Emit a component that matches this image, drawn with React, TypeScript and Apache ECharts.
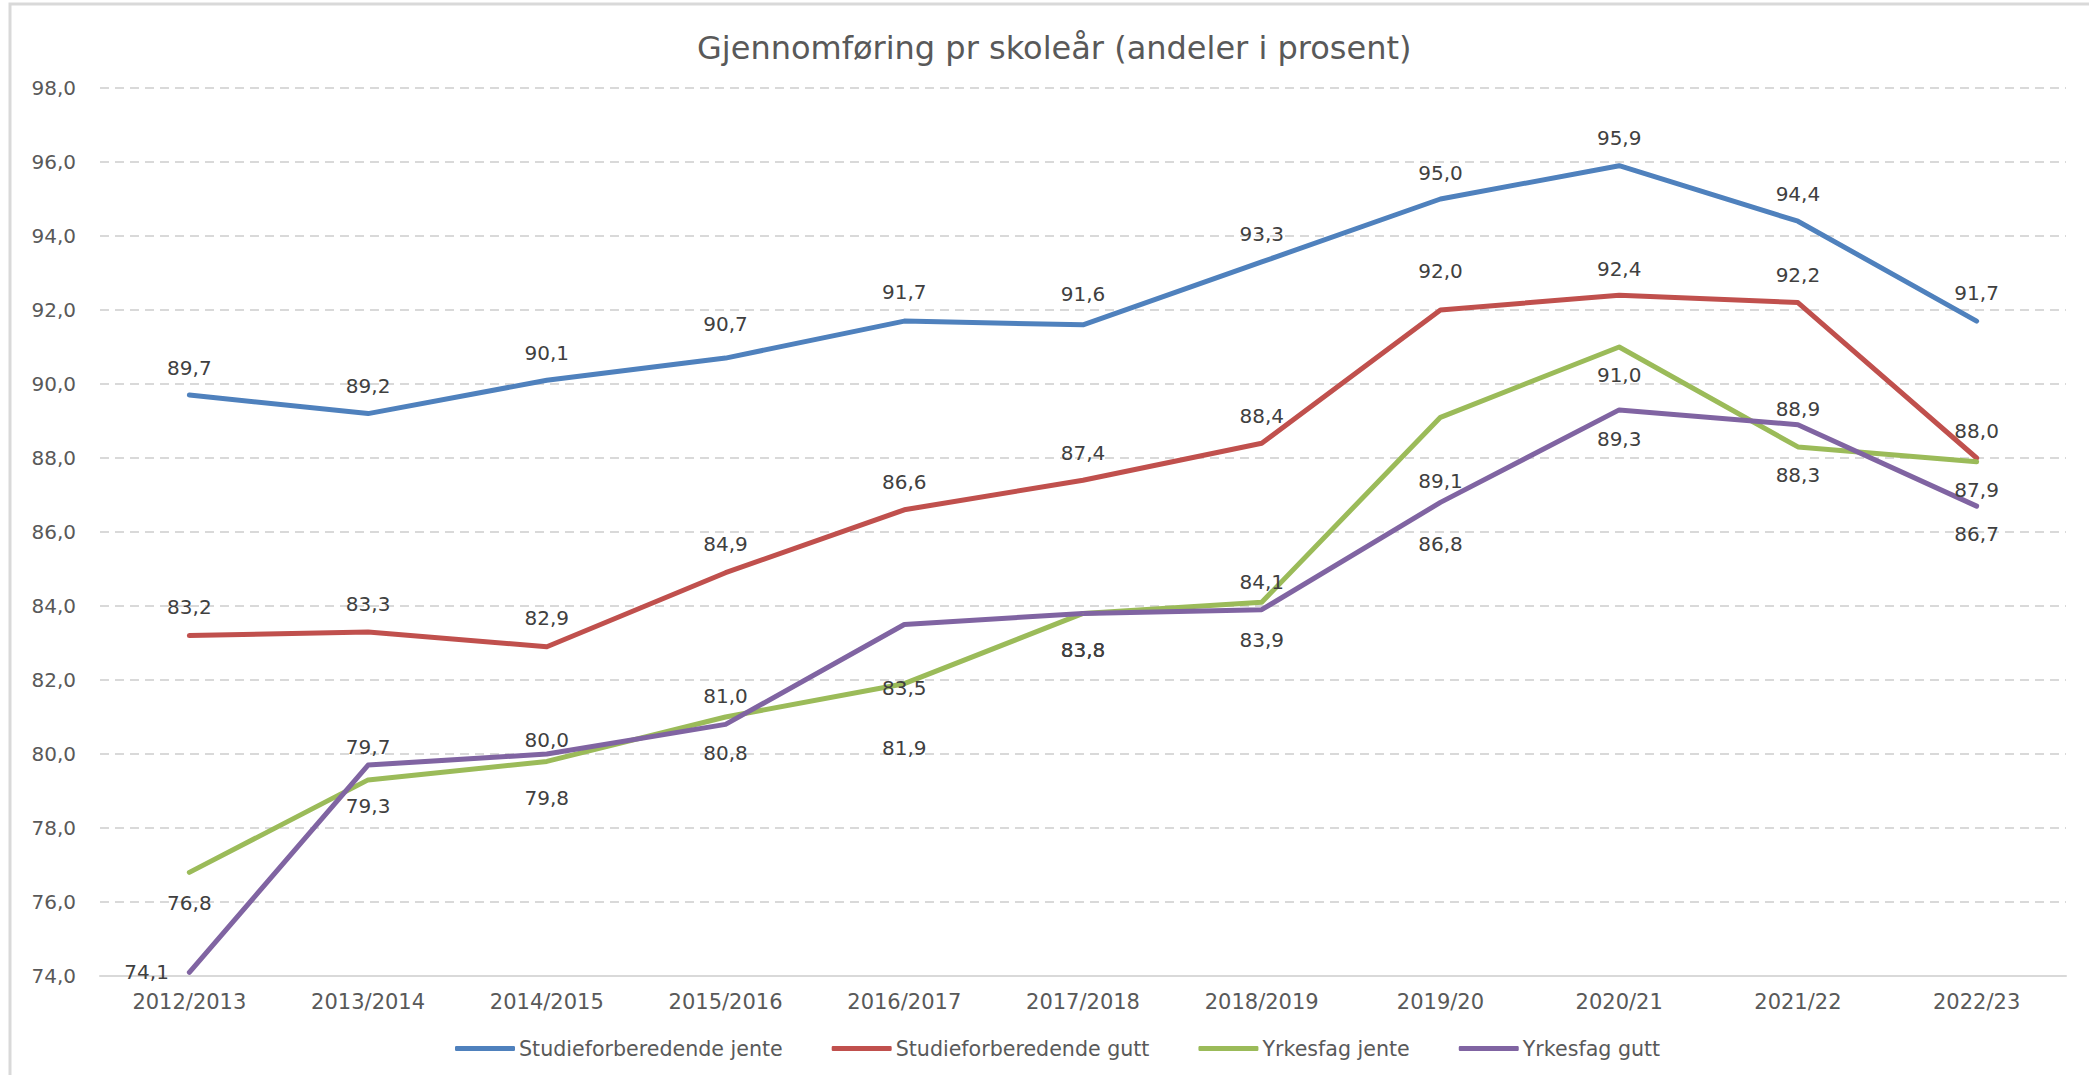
import React, { useEffect, useRef } from "react";
import * as echarts from "echarts";

const categories = [
  "2012/2013", "2013/2014", "2014/2015", "2015/2016", "2016/2017", "2017/2018",
  "2018/2019", "2019/20", "2020/21", "2021/22", "2022/23",
];
const studieJente = [89.7, 89.2, 90.1, 90.7, 91.7, 91.6, 93.3, 95.0, 95.9, 94.4, 91.7];
const studieGutt = [83.2, 83.3, 82.9, 84.9, 86.6, 87.4, 88.4, 92.0, 92.4, 92.2, 88.0];
const yrkesJente = [76.8, 79.3, 79.8, 81.0, 81.9, 83.8, 84.1, 89.1, 91.0, 88.3, 87.9];
const yrkesGutt = [74.1, 79.7, 80.0, 80.8, 83.5, 83.8, 83.9, 86.8, 89.3, 88.9, 86.7];
const yTicks = { min: 74, max: 98, interval: 2 };

// label placement (side + gap) per point, kept apart from the values
const sideStudieJente = ["top", "top", "top", "top", "top", "top", "top", "top", "top", "top", "top"];
const gapStudieJente = [17, 17, 17, 24, 19, 20, 17, 16, 17, 17, 18];
const sideStudieGutt = ["top", "top", "top", "top", "top", "top", "top", "top", "top", "top", "top"];
const gapStudieGutt = [18, 17, 18, 18, 17, 17, 17, 29, 16, 17, 17];
const sideYrkesJente = ["bottom", "bottom", "bottom", "top", "bottom", "bottom", "top", "bottom", "bottom", "bottom", "bottom"];
const gapYrkesJente = [20, 16, 26, 11, 54, 26, 10, 53, 17, 18, 18];
const sideYrkesGutt = ["left", "top", "top", "bottom", "bottom", "bottom", "bottom", "bottom", "bottom", "top", "bottom"];
const gapYrkesGutt = [20, 8, 4, 18, 53, 26, 20, 31, 19, 5, 17];

const FONT = "DejaVu Sans";
const fmt = (v: number) => v.toFixed(1).replace(".", ",");

function makeSeries(name: string, values: number[], color: string, sides: string[], gaps: number[]) {
  return {
    name,
    type: "line",
    data: values.map((v, i) => ({
      value: v,
      label: { position: sides[i], distance: gaps[i] },
    })),
    symbol: "circle",
    symbolSize: 1,
    showSymbol: true,
    itemStyle: { color },
    lineStyle: { color, width: 5, cap: "round", join: "round" },
    label: {
      show: true,
      fontFamily: FONT,
      fontSize: 20,
      color: "#404040",
      formatter: (p: any) => fmt(p.value),
    },
    emphasis: { disabled: true },
    z: 3,
  };
}

export default function App() {
  const ref = useRef<HTMLDivElement>(null);
  useEffect(() => {
    if (!ref.current) return;
    const chart = echarts.init(ref.current, null, { renderer: "svg" });
    chart.setOption({
      animation: false,
      backgroundColor: "#ffffff",
      title: {
        text: "Gjennomføring pr skoleår (andeler i prosent)",
        left: 692,
        top: 27,
        textStyle: { fontFamily: FONT, fontSize: 32, fontWeight: "normal", color: "#595959" },
      },
      graphic: [
        {
          type: "rect",
          shape: { x: 10, y: 4, width: 2100, height: 1100 },
          style: { fill: "none", stroke: "#d9d9d9", lineWidth: 3 },
          silent: true,
        },
      ],
      legend: {
        left: 450,
        top: 1033,
        itemWidth: 60,
        itemHeight: 5,
        itemGap: 49,
        icon: "roundRect",
        textStyle: { fontFamily: FONT, fontSize: 20.6, color: "#595959", padding: [0, 0, 0, -1] },
        data: [
          "Studieforberedende jente",
          "Studieforberedende gutt",
          "Yrkesfag jente",
          "Yrkesfag gutt",
        ],
      },
      grid: { left: 100, right: 23, top: 88, bottom: 99, containLabel: false },
      xAxis: {
        type: "category",
        data: categories,
        boundaryGap: true,
        axisLine: { lineStyle: { color: "#d9d9d9", width: 2 } },
        axisTick: { show: false },
        axisLabel: { fontFamily: FONT, fontSize: 21, color: "#595959", margin: 15 },
      },
      yAxis: {
        type: "value",
        min: yTicks.min,
        max: yTicks.max,
        interval: yTicks.interval,
        axisLine: { show: false },
        axisTick: { show: false },
        axisLabel: {
          fontFamily: FONT,
          fontSize: 20,
          color: "#595959",
          margin: 24,
          formatter: (v: number) => fmt(v),
        },
        splitLine: { lineStyle: { color: "#d9d9d9", width: 2, type: [9, 6] } },
      },
      series: [
        makeSeries("Studieforberedende jente", studieJente, "#4F81BD", sideStudieJente, gapStudieJente),
        makeSeries("Studieforberedende gutt", studieGutt, "#C0504D", sideStudieGutt, gapStudieGutt),
        makeSeries("Yrkesfag jente", yrkesJente, "#9BBB59", sideYrkesJente, gapYrkesJente),
        makeSeries("Yrkesfag gutt", yrkesGutt, "#8064A2", sideYrkesGutt, gapYrkesGutt),
      ],
    });
    return () => chart.dispose();
  }, []);
  return (
    <div
      ref={ref}
      style={{ position: "absolute", left: 0, top: 0, width: 2089, height: 1075 }}
    />
  );
}
